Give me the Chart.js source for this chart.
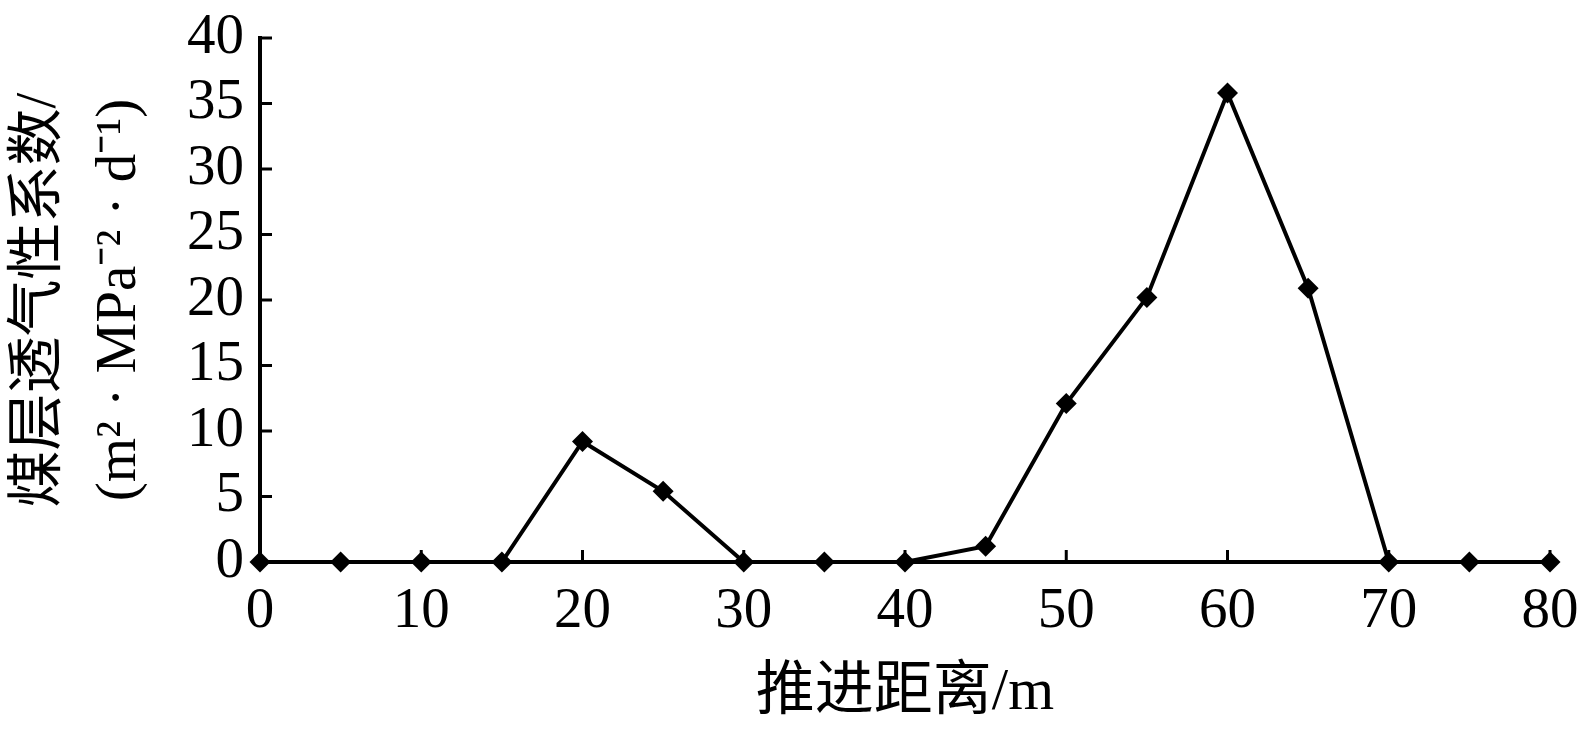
<!DOCTYPE html>
<html>
<head>
<meta charset="utf-8">
<script src="https://cdn.jsdelivr.net/npm/chart.js@4"></script>
<style>
html,body{margin:0;padding:0;background:#fff;}
#wrap{width:1581px;height:729px;position:relative;}
</style>
</head>
<body>
<div id="wrap"><canvas id="c" width="1581" height="729"></canvas></div>
<script>
const distances = [0,5,10,15,20,25,30,35,40,45,50,55,60,65,70,75,80];
const permeability = [0,0,0,0,9.2,5.4,0,0,0,1.2,12.1,20.2,35.8,20.9,0,0,0];
const xTitle = '推进距离/m';
const yTitle = ['煤层透气性系数/', '(m\u00B2 \u00B7 MPa\u207B\u00B2 \u00B7 d\u207B\u00B9)'];

const serif = '"Liberation Serif", "Times New Roman", serif';
const cjk = '"Liberation Serif", "Noto Sans CJK SC", serif';

const inwardTicks = {
  id: 'inwardTicks',
  afterDraw(chart) {
    const ctx = chart.ctx;
    const xs = chart.scales.x, ys = chart.scales.y;
    const ax = xs.left, ay = ys.bottom;
    const len = 12;
    ctx.save();
    ctx.strokeStyle = '#000';
    ctx.lineWidth = 3;
    ys.ticks.forEach(t => {
      const py = ys.getPixelForValue(t.value);
      ctx.beginPath(); ctx.moveTo(ax, py); ctx.lineTo(ax + len, py); ctx.stroke();
    });
    xs.ticks.forEach(t => {
      const px = xs.getPixelForValue(t.value);
      ctx.beginPath(); ctx.moveTo(px, ay); ctx.lineTo(px, ay - len); ctx.stroke();
    });
    ctx.restore();
  }
};

new Chart(document.getElementById('c'), {
  type: 'line',
  data: {
    datasets: [{
      data: distances.map((d, i) => ({x: d, y: permeability[i]})),
      borderColor: '#000',
      backgroundColor: '#000',
      borderWidth: 4,
      pointStyle: 'rectRot',
      pointRadius: 10.5,
      pointHoverRadius: 10.5,
      pointBorderWidth: 0,
      tension: 0,
      clip: false
    }]
  },
  options: {
    responsive: false,
    animation: false,
    events: [],
    layout: { padding: { top: 38, right: 31, left: 0, bottom: 0 } },
    plugins: { legend: { display: false }, tooltip: { enabled: false } },
    scales: {
      x: {
        type: 'linear', min: 0, max: 80,
        ticks: { stepSize: 10, color: '#000', font: { family: serif, size: 57 }, padding: 16, maxRotation: 0, autoSkip: false },
        grid: { display: true, drawOnChartArea: false, drawTicks: false },
        border: { display: true, color: '#000', width: 4 },
        title: { display: true, text: xTitle, color: '#000', font: { family: cjk, size: 59 }, padding: { top: 10, bottom: 0 } },
        afterFit(s) { s.height = 167; s.paddingLeft = 0; s.paddingRight = 0; }
      },
      y: {
        min: 0, max: 40,
        ticks: { stepSize: 5, color: '#000', font: { family: serif, size: 57 }, padding: 16, autoSkip: false },
        grid: { display: true, drawOnChartArea: false, drawTicks: false },
        border: { display: true, color: '#000', width: 4 },
        title: { display: true, text: yTitle, color: '#000', font: { family: cjk, size: 57, lineHeight: 1.4 }, padding: { top: 0, bottom: 0 } },
        afterFit(s) { s.width = 260; s.paddingTop = 0; s.paddingBottom = 0; }
      }
    }
  },
  plugins: [inwardTicks]
});
</script>
</body>
</html>
